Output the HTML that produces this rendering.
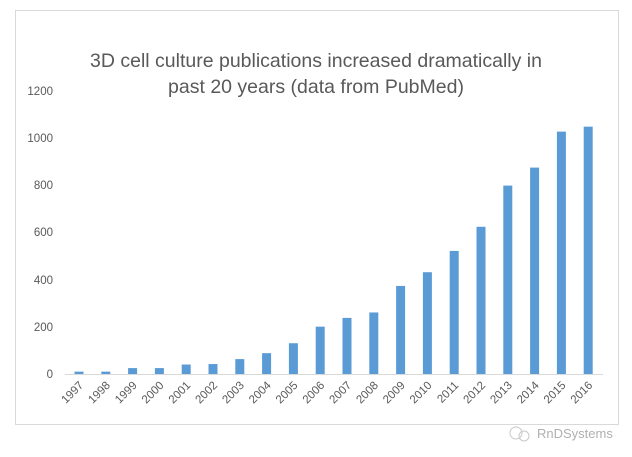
<!DOCTYPE html>
<html><head><style>body{margin:0;background:#fff}</style></head><body>
<svg width="632" height="452" xmlns="http://www.w3.org/2000/svg" font-family="'Liberation Sans',sans-serif">
<rect x="15.5" y="10.5" width="603" height="414" fill="#fff" stroke="#d9d9d9"/>
<text x="316" y="67" text-anchor="middle" font-size="19.5" fill="#595959">3D cell culture publications increased dramatically in</text>
<text x="316" y="93" text-anchor="middle" font-size="19.5" fill="#595959">past 20 years (data from PubMed)</text>
<g font-size="11.5" fill="#595959" text-anchor="end">
<text x="53" y="378">0</text><text x="53" y="331">200</text><text x="53" y="284">400</text><text x="53" y="236">600</text><text x="53" y="189">800</text><text x="53" y="142">1000</text><text x="53" y="95">1200</text>
</g>
<line x1="65" y1="374.5" x2="603" y2="374.5" stroke="#d9d9d9"/>
<g id="bars" fill="#5b9bd5"></g>
<g id="lbl" font-size="11.5" fill="#595959" text-anchor="end"></g>
<text x="537" y="438" font-size="13" fill="#b0b0b0">RnDSystems</text>
<circle cx="516" cy="433" r="6" fill="none" stroke="#c8c8c8"/><circle cx="524" cy="436" r="5" fill="none" stroke="#c8c8c8"/>
<script>
var v=[10,10,25,25,40,42,63,88,130,200,237,260,372,430,520,622,796,872,1024,1045];
var b=document.getElementById('bars'),l=document.getElementById('lbl'),ns='http://www.w3.org/2000/svg';
v.forEach(function(d,i){var cx=79+i*26.8,h=d*0.2367;
var r=document.createElementNS(ns,'rect');r.setAttribute('x',cx-4.5);r.setAttribute('y',374-h);r.setAttribute('width',9);r.setAttribute('height',h);b.appendChild(r);
var t=document.createElementNS(ns,'text');var x=cx+5,y=386;t.setAttribute('x',x);t.setAttribute('y',y);t.setAttribute('transform','rotate(-45 '+x+' '+y+')');t.textContent=1997+i;l.appendChild(t);});
</script>
</svg>
</body></html>
